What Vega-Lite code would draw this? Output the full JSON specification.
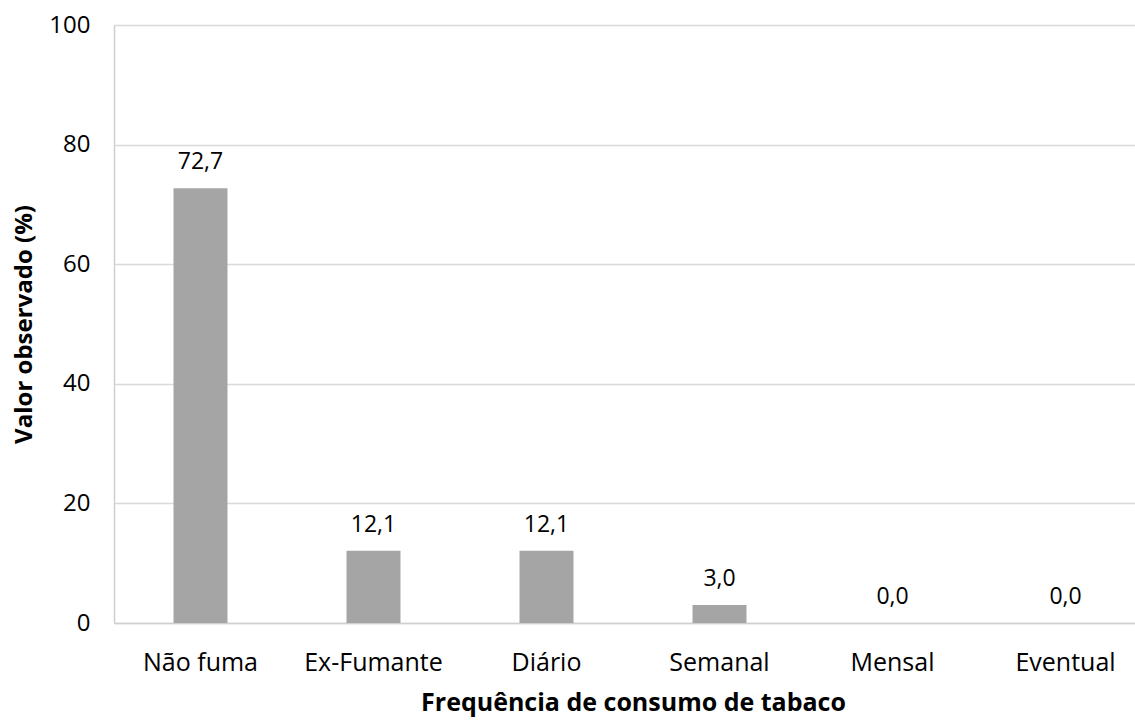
{
  "$schema": "https://vega.github.io/schema/vega-lite/v6.json",
  "autosize": {"type": "none"},
  "width": 1021,
  "height": 598,
  "padding": {"left": 114, "top": 25, "right": 0, "bottom": 97},
  "background": "white",
  "data": {"values": [
    {"categoria": "Não fuma", "valor": 72.7},
    {"categoria": "Ex-Fumante", "valor": 12.1},
    {"categoria": "Diário", "valor": 12.1},
    {"categoria": "Semanal", "valor": 3.0},
    {"categoria": "Mensal", "valor": 0.0},
    {"categoria": "Eventual", "valor": 0.0}
  ]},
  "encoding": {
    "x": {
      "field": "categoria", "type": "nominal", "sort": null,
      "scale": {"range": [0, 1038], "paddingInner": 0.688, "paddingOuter": 0.344},
      "axis": {
        "title": "Frequência de consumo de tabaco",
        "labelAngle": 0, "ticks": false, "domain": true, "domainColor": "#CFCFCF", "domainWidth": 1.5,
        "labelFontSize": 25, "labelPadding": 27, "labelColor": "#000000", "labelFont": "Open Sans",
        "titleFontSize": 25, "titleFont": "Open Sans", "titleFontWeight": "bold", "titleColor": "#000000", "titlePadding": 15
      }
    },
    "y": {
      "field": "valor", "type": "quantitative",
      "scale": {"domain": [0, 100], "nice": false},
      "axis": {
        "title": "Valor observado (%)", "values": [0, 20, 40, 60, 80, 100],
        "ticks": false, "domain": true, "domainColor": "#CFCFCF", "domainWidth": 1.5,
        "grid": true, "gridColor": "#D9D9D9", "gridWidth": 1.3,
        "labelFontSize": 24, "labelPadding": 24, "labelColor": "#000000", "labelFont": "Open Sans",
        "titleFontSize": 24, "titleFont": "Open Sans", "titleFontWeight": "bold", "titleColor": "#000000", "titlePadding": 12
      }
    }
  },
  "layer": [
    {"mark": {"type": "bar", "color": "#A5A5A5"}},
    {
      "mark": {"type": "text", "baseline": "alphabetic", "dy": -19, "fontSize": 23, "font": "Open Sans", "color": "#000000"},
      "encoding": {"text": {"field": "valor", "type": "quantitative", "format": ".1f"}}
    }
  ],
  "config": {
    "view": {"stroke": null},
    "locale": {"number": {"decimal": ",", "thousands": ".", "grouping": [3], "currency": ["R$", ""]}}
  }
}
